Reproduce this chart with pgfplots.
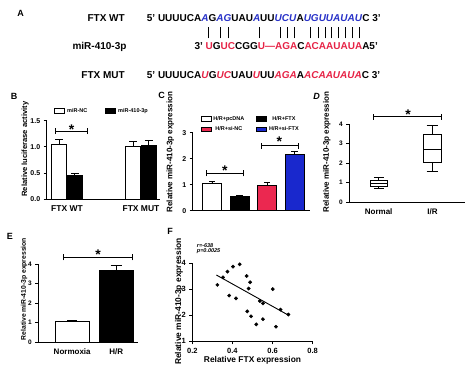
\documentclass[border=0pt]{standalone}
\usepackage{pgfplots}
\pgfplotsset{compat=1.18}
\usepgfplotslibrary{statistics}
\usepackage{fontspec}
\setmainfont{Liberation Sans}
\definecolor{seqblue}{RGB}{40,50,200}
\definecolor{seqred}{RGB}{230,35,70}
\definecolor{barred}{RGB}{235,40,80}
\definecolor{barblue}{RGB}{25,40,205}
\newcommand{\fs}[1]{\fontsize{#1}{#1}\selectfont\bfseries}
\newcommand{\bi}[1]{\textcolor{seqblue}{\textit{#1}}}
\newcommand{\ri}[1]{\textcolor{seqred}{\textit{#1}}}
\newcommand{\ru}[1]{\textcolor{seqred}{#1}}
\newcommand{\bracket}[3]{\draw[line width=0.9pt] ([yshift=-3pt]axis cs:#1,#3) -- ([yshift=3pt]axis cs:#1,#3) (axis cs:#1,#3) -- (axis cs:#2,#3) ([yshift=-3pt]axis cs:#2,#3) -- ([yshift=3pt]axis cs:#2,#3);}
\newcommand{\sstar}[2]{\node[anchor=base, font=\fs{14}, yshift=-8pt, inner sep=0pt] at (axis cs:#1,#2) {*};}
\pgfplotsset{
 prism/.style={
  scale only axis, axis lines=left, axis line style={-, line width=0.9pt, black},
  every tick/.style={black, line width=0.9pt}, tick align=outside, major tick length=3pt,
  tick label style={font=\fs{7}}, label style={font=\fs{8}},
  /pgf/number format/assume math mode=true,
  clip=false, enlargelimits=false, anchor=south west,
  x tick label style={font=\fs{8.5}},
  every axis y label/.style={rotate=90, anchor=center},
 },
 pbar/.style={
  error bars/y dir=plus, error bars/y explicit,
  error bars/error bar style={line width=0.9pt, black},
  error bars/error mark options={rotate=90, line width=0.9pt, black, mark size=#1},
  draw=black, line width=0.9pt,
  legend image code/.code={\draw[##1, line width=0.8pt] (0pt,-2.3pt) rectangle (10pt,2.3pt);},
 },
}
\begin{document}
\begin{tikzpicture}
\useasboundingbox (0,0) rectangle (474pt,372pt);
% ---------- Panel A ----------
\node[font=\fs{9}] at (20.7pt,358.7pt) {A};
\node[anchor=base east, font=\fs{10}] at (128.3pt,350.2pt) {FTX WT};
\node[anchor=base east, font=\fs{10}] at (130pt,322.8pt) {miR-410-3p};
\node[anchor=base east, font=\fs{10}] at (128.3pt,293.5pt) {FTX MUT};
\node[anchor=base west, font=\fs{10}, inner sep=0pt] at (146.7pt,350.2pt) {5' UUUUCA\bi{A}G\bi{AG}UAU\bi{A}UU\bi{UCU}A\bi{UGUUAUAU}C 3'};
\node[anchor=base west, font=\fs{10}, inner sep=0pt] at (194.3pt,322.8pt) {3' \ru{U}G\ru{UC}CGG\ru{U---AGA}C\ru{ACAAUAUA}A5'};
\node[anchor=base west, font=\fs{10}, inner sep=0pt] at (146.7pt,293.5pt) {5' UUUUCA\ri{U}G\ri{UC}UAU\ri{U}UU\ri{AGA}A\ri{ACAAUAUA}C 3'};
\foreach \x in {208.3,220,228.3,259.3,280,287.3,294,310,318.3,325,331.7,338.3,345,352.7,359.3}
  \draw[line width=0.8pt] (\x pt,333.7pt) -- (\x pt,345.3pt);
% ---------- Panel labels ----------
\node[font=\fs{9}] at (14pt,276pt) {B};
\node[font=\fs{9}] at (161.7pt,276.3pt) {C};
\node[font=\fs{9}] at (316.7pt,275.3pt) {\itshape D};
\node[font=\fs{9}] at (10pt,136pt) {E};
\node[font=\fs{9}] at (170pt,140.3pt) {F};
% ---------- Panel B ----------
\begin{axis}[prism, at={(46.7pt,172.7pt)}, width=113.3pt, height=78.6pt,
  xmin=-0.274, xmax=1.257, ymin=0, ymax=1.5, ytick={0,0.5,1,1.5},
  yticklabel style={/pgf/number format/.cd, fixed, fixed zerofill, precision=1},
  xtick={0,1}, xticklabels={FTX WT, FTX MUT}, x tick style={draw=none},
  ybar, bar width=0.2,
  ylabel={Relative luciferase activity}, ylabel style={at={(axis description cs:-0.19,0.64)}, font=\fs{7.6}},
  legend columns=2,
  legend style={at={(axis description cs:0.04,1.123)}, anchor=west, draw=none, fill=none, font=\fs{5.5}, /tikz/every even column/.append style={column sep=16pt}}]
\addplot[pbar=3.8pt, fill=white, bar shift=-0.105] coordinates {(0,1.05) +- (0,0.09) (1,1.01) +- (0,0.09)};
\addlegendentry{miR-NC}
\addplot[pbar=3.8pt, fill=black, bar shift=0.105] coordinates {(0,0.46) +- (0,0.04) (1,1.03) +- (0,0.10)};
\addlegendentry{miR-410-3p}
\bracket{-0.16}{0.28}{1.30}
\sstar{0.064}{1.385}
\end{axis}
% ---------- Panel C ----------
\begin{axis}[prism, at={(192.7pt,161.3pt)}, width=117.3pt, height=78pt,
  xmin=-0.70, xmax=3.56, ymin=0, ymax=3, ytick={0,1,2,3}, xtick=\empty,
  ybar, bar width=0.69,
  ylabel={Relative miR-410-3p expression}, ylabel style={at={(axis description cs:-0.19,0.75)}, font=\fs{8}},
  legend columns=2,
  legend style={at={(axis description cs:0.04,1.108)}, anchor=west, draw=none, fill=none, font=\fs{5.5}, row sep=1pt, /tikz/every even column/.append style={column sep=10pt}}]
\addplot[pbar=3.2pt, fill=white, bar shift=0pt] coordinates {(0,1.03) +- (0,0.08)};
\addlegendentry{H/R+pcDNA}
\addplot[pbar=3.2pt, fill=black, bar shift=0pt] coordinates {(1,0.53) +- (0,0.04)};
\addlegendentry{H/R+FTX}
\addplot[pbar=3.2pt, fill=barred, bar shift=0pt] coordinates {(2,0.99) +- (0,0.08)};
\addlegendentry{H/R+si-NC}
\addplot[pbar=3.2pt, fill=barblue, bar shift=0pt] coordinates {(3,2.15) +- (0,0.12)};
\addlegendentry{H/R+si-FTX}
\bracket{-0.19}{1.14}{1.44}
\sstar{0.47}{1.65}
\bracket{1.81}{3.14}{2.50}
\sstar{2.45}{2.76}
\end{axis}
% ---------- Panel D ----------
\begin{axis}[prism, at={(349.3pt,169.7pt)}, width=115.7pt, height=78.3pt,
  xmin=0.454, xmax=2.604, ymin=0, ymax=4, ytick={0,1,2,3,4},
  tick label style={font=\fs{6.5}}, x tick label style={font=\fs{8}},
  xtick={1,2}, xticklabels={Normal, I/R}, x tick style={draw=none},
  boxplot/draw direction=y,
  ylabel={Relative miR-410-3p expression}, ylabel style={at={(axis description cs:-0.195,0.64)}, font=\fs{8}}]
\addplot[black, line width=0.9pt, fill=white, boxplot prepared={draw position=1, median=0.97, lower quartile=0.83, upper quartile=1.11, lower whisker=0.73, upper whisker=1.28, box extend=0.32, whisker extend=0.18}] coordinates {};
\addplot[black, line width=0.9pt, fill=white, boxplot prepared={draw position=2, median=2.69, lower quartile=2.04, upper quartile=3.47, lower whisker=1.57, upper whisker=3.95, box extend=0.32, whisker extend=0.22}] coordinates {};
\bracket{0.9}{2.17}{4.37}
\sstar{1.545}{4.66}
\end{axis}
% ---------- Panel E ----------
\begin{axis}[prism, at={(38.3pt,29.7pt)}, width=99.7pt, height=78.3pt,
  xmin=-0.77, xmax=1.495, ymin=0, ymax=4, ytick={0,1,2,3,4},
  tick label style={font=\fs{6.5}}, x tick label style={font=\fs{8}},
  xtick={0,1}, xticklabels={Normoxia, H/R}, x tick style={draw=none},
  ybar, bar width=0.78,
  ylabel={Relative miR-410-3p expression}, ylabel style={at={(axis description cs:-0.143,0.68)}, font=\fs{6.8}}]
\addplot[pbar=5pt, fill=white, bar shift=0pt] coordinates {(0,1.04) +- (0,0.07)};
\addplot[pbar=5.5pt, fill=black, bar shift=0pt] coordinates {(1,3.66) +- (0,0.28)};
\bracket{-0.19}{1.38}{4.34}
\sstar{0.586}{4.62}
\end{axis}
% ---------- Panel F ----------
\begin{axis}[prism, at={(192.3pt,30.7pt)}, width=120.4pt, height=78pt,
  xmin=0.2, xmax=0.8, ymin=1, ymax=4, ytick={1,2,3,4}, xtick={0.2,0.4,0.6,0.8},
  tick label style={font=\fs{7.5}}, x tick label style={font=\fs{7.5}},
  xticklabel style={/pgf/number format/.cd, fixed, fixed zerofill, precision=1},
  ylabel={Relative miR-410-3p expression}, ylabel style={at={(axis description cs:-0.11,0.51)}, font=\fs{8.4}},
  xlabel={Relative FTX expression}, xlabel style={at={(axis description cs:0.5,-0.24)}, anchor=center, font=\fs{8.4}}]
\addplot[only marks, mark=*, mark size=1.7pt, black] coordinates {
 (0.325,3.17) (0.353,3.46) (0.375,3.68) (0.403,3.87) (0.436,3.96)
 (0.384,2.76) (0.418,2.65) (0.471,3.51) (0.488,3.27) (0.481,3.03)
 (0.474,2.15) (0.493,1.96) (0.519,1.65) (0.537,2.55) (0.552,2.46)
 (0.552,1.85) (0.601,3.01) (0.617,1.56) (0.640,2.22) (0.679,2.03)};
\addplot[black, line width=0.9pt] coordinates {(0.32,3.55) (0.68,2.00)};
\node[anchor=west, font=\fs{5.5}\itshape, inner sep=0pt] at (axis cs:0.222,4.68) {r=-638};
\node[anchor=west, font=\fs{5.5}\itshape, inner sep=0pt] at (axis cs:0.222,4.47) {p=0.0025};
\end{axis}
\end{tikzpicture}
\end{document}
